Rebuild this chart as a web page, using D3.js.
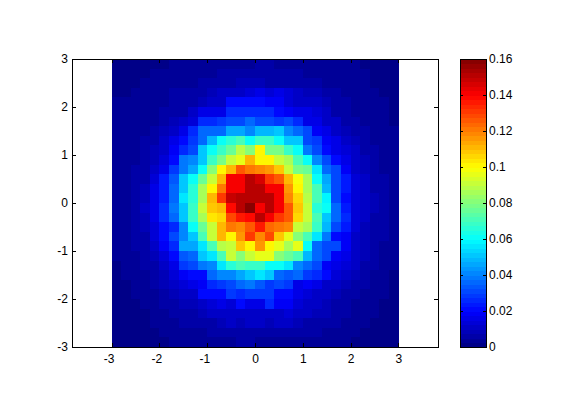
<!DOCTYPE html>
<html>
<head>
<meta charset="utf-8">
<script src="https://cdn.jsdelivr.net/npm/d3@7"></script>
<style>
html, body { margin: 0; padding: 0; background: #fff; }
svg { display: block; }
text { font-family: "Liberation Sans", Arial, sans-serif; font-size: 12px; fill: #000; }
</style>
</head>
<body>
<div id="chart"></div>
<script>
// Histogram heights, in thousandths, top row (y = 3) first
var rows = [
    [2,2,2,2,2,2,3,3,3,3,3,4,4,4,4,5,5,4,4,4,4,3,3,3,3,3,2,2,2,2],
    [2,2,2,2,3,3,3,3,4,4,4,5,5,6,6,6,5,6,6,5,4,4,3,3,3,3,3,2,2,2],
    [2,2,2,3,3,3,4,4,4,6,6,6,7,8,8,8,6,7,7,6,6,5,4,4,3,3,3,2,2,2],
    [2,2,3,3,3,4,5,5,6,7,8,10,11,12,13,15,14,15,13,10,9,8,6,5,4,3,3,3,2,2],
    [3,3,3,3,4,4,5,6,7,9,10,12,20,21,22,20,19,19,14,12,12,10,8,6,5,4,3,3,3,2],
    [3,3,3,3,4,5,6,7,12,15,16,17,25,26,26,25,25,20,18,17,15,13,10,7,5,4,4,3,3,2],
    [3,3,3,4,4,6,8,11,14,26,27,28,30,31,35,32,32,28,30,25,16,15,12,10,7,5,4,3,3,2],
    [3,3,3,4,6,8,12,15,25,35,36,37,46,47,42,48,48,50,40,35,30,18,15,12,8,6,5,4,3,3],
    [3,3,4,5,7,10,15,20,28,36,48,60,65,70,60,68,68,62,52,50,32,28,18,15,12,8,6,4,3,3],
    [3,3,4,5,8,12,18,25,32,52,60,68,75,88,80,100,78,78,68,62,38,32,22,15,14,10,7,5,4,3],
    [3,3,4,5,9,14,22,38,42,52,68,78,90,97,110,100,100,92,85,70,62,40,30,20,16,11,8,5,4,3],
    [3,4,5,6,10,17,28,38,45,60,80,100,110,125,122,118,116,108,92,78,76,55,35,30,19,12,9,6,4,3],
    [3,4,5,7,14,23,33,50,62,75,90,112,140,140,150,145,130,125,110,98,85,60,45,30,23,14,10,7,5,3],
    [3,4,5,8,15,24,35,52,65,85,100,122,142,140,150,152,142,140,115,100,85,72,48,30,23,14,10,7,5,3],
    [3,4,5,9,16,24,36,55,65,85,110,132,148,152,152,152,150,142,118,106,88,72,58,30,22,14,10,8,5,3],
    [3,4,6,10,16,26,38,52,68,90,108,112,138,152,158,140,152,140,125,108,92,65,60,35,24,14,10,8,5,3],
    [3,4,5,9,16,26,35,50,68,85,104,105,128,136,138,150,140,132,126,105,90,70,52,35,26,14,10,7,5,3],
    [3,4,5,8,13,21,25,42,60,75,92,112,120,118,125,135,124,122,118,92,85,68,48,30,23,13,9,7,5,3],
    [3,4,5,7,13,22,32,40,50,70,90,110,100,115,132,118,128,108,95,80,72,55,38,22,19,12,8,6,5,3],
    [3,4,5,6,10,19,25,45,45,55,70,88,90,108,100,115,100,95,85,95,60,35,30,30,18,12,8,6,4,3],
    [3,3,4,5,8,13,22,33,35,52,55,70,92,82,92,95,95,80,75,70,48,35,30,18,15,11,8,6,4,3],
    [2,3,4,5,7,11,17,28,30,38,42,55,65,70,68,68,60,62,55,40,35,30,18,15,13,10,7,5,3,3],
    [2,3,3,4,6,9,14,18,20,22,35,40,42,45,52,55,50,35,33,35,28,25,20,13,11,8,6,4,3,2],
    [2,2,3,4,5,8,11,13,15,18,26,28,30,35,38,33,28,30,28,17,18,15,12,10,8,6,5,4,3,2],
    [2,2,3,3,4,6,8,10,12,20,20,22,28,26,28,28,28,20,20,15,13,12,10,8,6,5,4,3,3,2],
    [2,2,2,3,3,5,6,8,8,12,13,15,14,20,15,17,26,18,18,14,12,11,9,6,5,4,3,3,2,2],
    [2,2,2,2,3,4,5,6,7,8,10,11,12,12,12,12,12,12,13,11,10,9,8,7,5,4,3,3,2,2],
    [2,2,2,2,3,3,4,5,5,6,7,9,10,9,10,10,9,10,10,9,7,6,6,5,4,3,3,2,2,2],
    [2,2,2,2,2,3,3,4,4,4,5,6,7,7,7,7,7,6,6,6,5,5,4,4,3,3,2,2,2,2],
    [1,2,2,2,2,2,3,3,3,3,4,4,4,5,5,4,4,4,4,4,3,3,3,3,3,2,2,2,2,1]
];
var xTicks = [-3, -2, -1, 0, 1, 2, 3];
var yTicks = [-3, -2, -1, 0, 1, 2, 3];
var barTicks = [0, 0.02, 0.04, 0.06, 0.08, 0.1, 0.12, 0.14, 0.16];
var jetStops = ["#000080", "#0000ff", "#00ffff", "#ffff00", "#ff0000", "#800000"];
var jetAt = [0, 0.02, 0.06, 0.1, 0.14, 0.16];

var w = 561;
var h = 420;
var binWidth = 0.2;
var levels = 64;

var svg = d3.select("#chart")
    .append("svg")
    .attr("width", w)
    .attr("height", h);

var x = d3.scaleLinear().domain([-3.83, 3.83]).range([72, 438]);
var y = d3.scaleLinear().domain([-3, 3]).range([347, 59]);
var barY = d3.scaleLinear().domain([0, 0.16]).range([347, 59]);

// Jet colormap, stepped to 64 levels like the colorbar
var jet = d3.scaleLinear().domain(jetAt).range(jetStops);
var levelColors = d3.range(levels).map(function(i) {
    return jet((i + 0.5) / levels * 0.16);
});
var color = d3.scaleQuantize().domain([0, 0.16]).range(levelColors);

// One rect per bin
var cells = [];
rows.forEach(function(row, j) {
    row.forEach(function(v, i) {
        cells.push({ col: i, row: j, value: v / 1000 });
    });
});

svg.append("g")
    .selectAll("rect")
    .data(cells)
    .enter()
    .append("rect")
    .attr("shape-rendering", "crispEdges")
    .attr("x", function(d) { return x(-3 + d.col * binWidth); })
    .attr("y", function(d) { return y(3 - d.row * binWidth); })
    .attr("width", x(binWidth) - x(0) + 0.5)
    .attr("height", y(0) - y(binWidth) + 0.5)
    .attr("fill", function(d) { return color(d.value); });

function styleAxis(g) {
    g.selectAll("path").attr("stroke", "#000").attr("shape-rendering", "crispEdges");
    g.selectAll("line").attr("stroke", "#000").attr("shape-rendering", "crispEdges");
}

var plain = function(d) { return String(d); };

// Main box with ticks on the inside of all four sides
svg.append("g").attr("transform", "translate(0,347)")
    .call(d3.axisBottom(x).tickValues(xTicks).tickFormat(plain).tickSizeInner(-4).tickSizeOuter(0).tickPadding(7))
    .call(styleAxis)
    .selectAll("text")
    .attr("dx", function(d) { return d < 0 ? -3 : 0; }); // negative labels sit a little left of the tick
svg.append("g").attr("transform", "translate(0,59)")
    .call(d3.axisTop(x).tickValues(xTicks).tickFormat("").tickSizeInner(-4).tickSizeOuter(0))
    .call(styleAxis);
svg.append("g").attr("transform", "translate(72,0)")
    .call(d3.axisLeft(y).tickValues(yTicks).tickFormat(plain).tickSizeInner(-4).tickSizeOuter(0).tickPadding(4))
    .call(styleAxis);
svg.append("g").attr("transform", "translate(438,0)")
    .call(d3.axisRight(y).tickValues(yTicks).tickFormat("").tickSizeInner(-4).tickSizeOuter(0))
    .call(styleAxis);

// Colorbar
var barLevel = d3.scaleBand().domain(d3.range(levels)).range([347, 59]);

svg.append("g")
    .selectAll("rect")
    .data(levelColors)
    .enter()
    .append("rect")
    .attr("shape-rendering", "crispEdges")
    .attr("x", 460)
    .attr("width", 26)
    .attr("y", function(d, i) { return barLevel(i); })
    .attr("height", barLevel.bandwidth() + 0.5)
    .attr("fill", function(d) { return d; });

svg.append("rect")
    .attr("x", 460)
    .attr("y", 59)
    .attr("width", 26)
    .attr("height", 288)
    .attr("fill", "none")
    .attr("stroke", "#000")
    .attr("shape-rendering", "crispEdges");

svg.append("g").attr("transform", "translate(486,0)")
    .call(d3.axisRight(barY).tickValues(barTicks).tickFormat(plain).tickSizeInner(-3).tickSizeOuter(0).tickPadding(3))
    .call(styleAxis);
svg.append("g").attr("transform", "translate(460,0)")
    .call(d3.axisLeft(barY).tickValues(barTicks).tickFormat("").tickSizeInner(-3).tickSizeOuter(0))
    .call(styleAxis);
</script>
</body>
</html>
